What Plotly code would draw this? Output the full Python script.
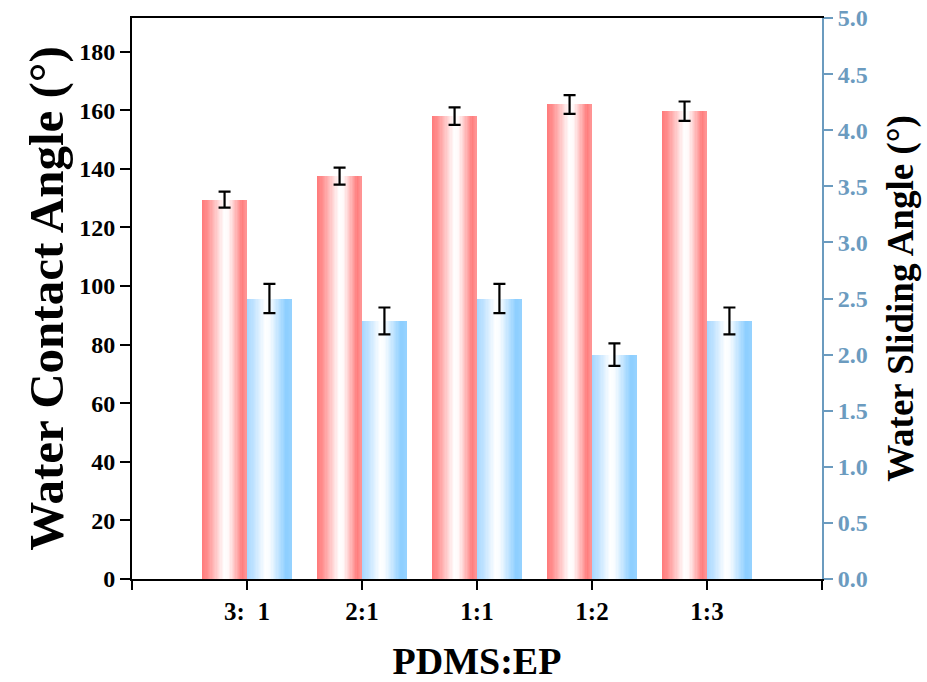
import plotly.graph_objects as go

# ---- data ----
categories = ["3:\u00a0 1", "2:1", "1:1", "1:2", "1:3"]
contact_angle = [129.5, 137.5, 158.0, 162.0, 159.7]
contact_err = [2.7, 2.9, 3.0, 3.2, 3.3]
sliding_angle = [2.5, 2.3, 2.5, 2.0, 2.3]
sliding_err = [0.13, 0.12, 0.13, 0.10, 0.12]
left_ticks = [0, 20, 40, 60, 80, 100, 120, 140, 160, 180]
right_ticks = [0.0, 0.5, 1.0, 1.5, 2.0, 2.5, 3.0, 3.5, 4.0, 4.5, 5.0]

# ---- style ----
FONT = "Liberation Serif"
AXBLUE = "#6B9BBF"
BAR_W = 0.39
N_STRIPS = 36

red_stops = [(0.0, (255, 122, 122)), (0.12, (255, 140, 140)), (0.5, (255, 255, 255)),
             (0.6, (255, 248, 248)), (0.9, (255, 125, 125)), (1.0, (255, 150, 150))]
blue_stops = [(0.0, (165, 214, 255)), (0.15, (190, 226, 255)), (0.42, (255, 255, 255)),
              (0.52, (248, 252, 255)), (0.88, (140, 206, 255)), (1.0, (150, 210, 255))]


def grad(stops, t):
    for (t0, c0), (t1, c1) in zip(stops[:-1], stops[1:]):
        if t0 <= t <= t1:
            f = (t - t0) / (t1 - t0) if t1 > t0 else 0
            c = [round(a + (b - a) * f) for a, b in zip(c0, c1)]
            return f"rgb({c[0]},{c[1]},{c[2]})"
    c = stops[-1][1]
    return f"rgb({c[0]},{c[1]},{c[2]})"


xpos = list(range(1, len(categories) + 1))
fig = go.Figure()

sw = BAR_W / N_STRIPS
for j in range(N_STRIPS):
    t = (j + 0.5) / N_STRIPS
    fig.add_trace(go.Bar(
        x=xpos, y=contact_angle, width=sw * 1.15, offset=-BAR_W + j * sw,
        marker=dict(color=grad(red_stops, t), line=dict(width=0)),
        yaxis="y", showlegend=False, hoverinfo="skip"))
for j in range(N_STRIPS):
    t = (j + 0.5) / N_STRIPS
    fig.add_trace(go.Bar(
        x=xpos, y=sliding_angle, width=sw * 1.15, offset=j * sw,
        marker=dict(color=grad(blue_stops, t), line=dict(width=0)),
        yaxis="y2", showlegend=False, hoverinfo="skip"))

fig.add_trace(go.Scatter(
    x=[p - BAR_W / 2 for p in xpos], y=contact_angle, mode="markers",
    marker=dict(size=1, opacity=0),
    error_y=dict(type="data", array=contact_err, color="black", thickness=2.2, width=6),
    yaxis="y", showlegend=False))
fig.add_trace(go.Scatter(
    x=[p + BAR_W / 2 for p in xpos], y=sliding_angle, mode="markers",
    marker=dict(size=1, opacity=0),
    error_y=dict(type="data", array=sliding_err, color="black", thickness=2.2, width=6),
    yaxis="y2", showlegend=False))

fig.update_layout(
    width=927, height=682,
    margin=dict(l=132, r=105, t=18, b=103),
    paper_bgcolor="white", plot_bgcolor="white",
    barmode="overlay", bargap=0,
    font=dict(family=FONT, color="black"),
    xaxis=dict(
        range=[0, 6], tickmode="array", tickvals=[0] + xpos + [6],
        ticktext=[""] + categories + [""], automargin=False,
        showline=True, linecolor="black", linewidth=2, mirror=True,
        ticks="outside", ticklen=9, tickwidth=2, tickcolor="black",
        showgrid=False, zeroline=False,
        tickfont=dict(family=FONT, size=25, weight="bold", color="black"),
        title=dict(text="PDMS:EP", font=dict(family=FONT, size=38, weight="bold"), standoff=26),
    ),
    yaxis=dict(
        range=[0, 191.5], tickmode="array", tickvals=left_ticks, automargin=False,
        showline=True, linecolor="black", linewidth=2,
        ticks="outside", ticklen=10, tickwidth=2, tickcolor="black",
        showgrid=False, zeroline=False,
        tickfont=dict(family=FONT, size=24, weight="bold", color="black"),
        title=dict(text="Water Contact Angle (°)", font=dict(family=FONT, size=49, weight="bold"), standoff=0),
    ),
    yaxis2=dict(
        range=[0, 5], overlaying="y", side="right", tickmode="array", tickvals=right_ticks,
        tickformat=".1f", automargin=False,
        showline=True, linecolor=AXBLUE, linewidth=2,
        ticks="outside", ticklen=9, tickwidth=2, tickcolor=AXBLUE,
        showgrid=False, zeroline=False,
        tickfont=dict(family=FONT, size=24, weight="bold", color=AXBLUE),
        title=dict(text="Water Sliding Angle (°)", font=dict(family=FONT, size=37, weight="bold", color="black"), standoff=20),
    ),
)

fig.write_html("out.html")
